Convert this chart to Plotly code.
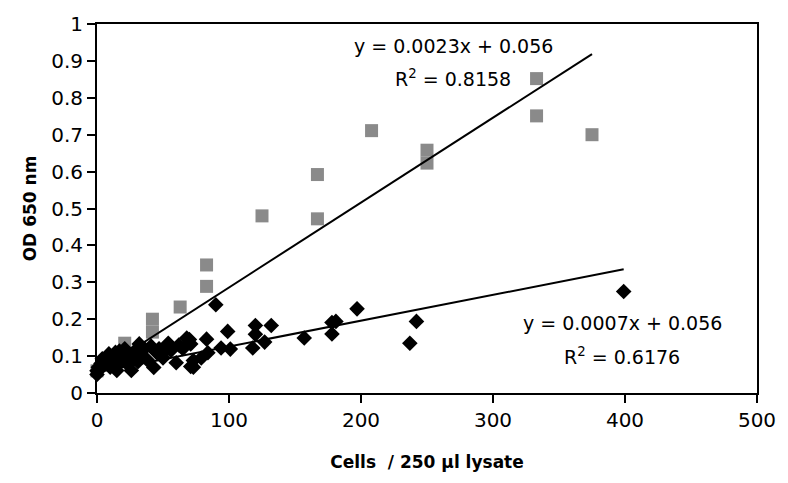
import plotly.graph_objects as go

# OD 650 nm readings against cell count, two assay series
cells_low = [0, 0, 1, 2, 3, 4, 5, 6, 8, 9, 10, 11, 12, 14, 15, 16, 17, 18, 20, 21,
             22, 24, 26, 27, 29, 31, 32, 34, 36, 38, 41, 43, 45, 47, 49, 50, 52, 54,
             56, 60, 62, 65, 68, 70, 71, 71, 73, 73, 79, 83, 84, 90, 94, 99, 101,
             118, 120, 120, 127, 132, 157, 178, 181, 178, 197, 237, 242, 399]
od_low = [0.05, 0.06, 0.07, 0.065, 0.08, 0.093, 0.075, 0.085, 0.10, 0.106, 0.07,
          0.09, 0.095, 0.11, 0.061, 0.08, 0.114, 0.10, 0.09, 0.12, 0.082, 0.105,
          0.061, 0.095, 0.115, 0.085, 0.133, 0.10, 0.12, 0.09, 0.127, 0.069, 0.11,
          0.12, 0.106, 0.095, 0.125, 0.135, 0.115, 0.082, 0.13, 0.12, 0.149, 0.145,
          0.133, 0.072, 0.088, 0.07, 0.095, 0.146, 0.109, 0.239, 0.122, 0.167,
          0.119, 0.122, 0.183, 0.159, 0.138, 0.183, 0.149, 0.191, 0.194, 0.16,
          0.228, 0.135, 0.194, 0.275]

cells_high = [0, 10, 21, 21, 42, 42, 63, 83, 83, 125, 167, 167, 208, 250, 250, 333, 333, 375]
od_high = [0.06, 0.085, 0.10, 0.135, 0.20, 0.165, 0.233, 0.347, 0.289, 0.48, 0.592,
           0.472, 0.711, 0.658, 0.623, 0.852, 0.751, 0.70]

# Linear fits (slope, intercept, R^2)
fit_high = (0.0023, 0.056, 0.8158)
fit_low = (0.0007, 0.056, 0.6176)

x_ticks = [0, 100, 200, 300, 400, 500]
y_ticks = [0, 0.1, 0.2, 0.3, 0.4, 0.5, 0.6, 0.7, 0.8, 0.9, 1]

FONT = "DejaVu Sans, Arial, sans-serif"

fig = go.Figure()

fig.add_trace(go.Scatter(
    x=cells_high, y=od_high, mode="markers",
    marker=dict(symbol="square", size=13, color="#8a8a8a"),
    showlegend=False, cliponaxis=False))

fig.add_trace(go.Scatter(
    x=cells_low, y=od_low, mode="markers",
    marker=dict(symbol="diamond", size=12, color="#000000"),
    showlegend=False, cliponaxis=False))

for xs, (m, b, _) in ((cells_high, fit_high), (cells_low, fit_low)):
    lx = [0, max(xs)]
    ly = [m * v + b for v in lx]
    fig.add_trace(go.Scatter(x=lx, y=ly, mode="lines",
                             line=dict(color="#000000", width=2),
                             showlegend=False))


def add_fit_labels(fit, x, y_eq, y_r2):
    m, b, r2 = fit
    style = dict(xref="x", yref="y", showarrow=False, xanchor="center",
                 yanchor="middle", font=dict(family=FONT, size=19, color="#000"))
    fig.add_annotation(x=x, y=y_eq, text=f"y = {m:.4f}x + {b:.3f}", **style)
    fig.add_annotation(x=x, y=y_r2, text=f"R<sup>2</sup> = {r2:.4f}", **style)


add_fit_labels(fit_high, 270, 0.941, 0.853)
add_fit_labels(fit_low, 398, 0.189, 0.101)

fig.update_layout(
    width=788, height=483,
    margin=dict(l=97, r=25, t=18, b=90),
    paper_bgcolor="white", plot_bgcolor="white",
    font=dict(family=FONT, color="#000"),
)

fig.update_xaxes(
    range=[0, 500], tickvals=x_ticks, ticktext=[str(v) for v in x_ticks],
    showgrid=False, zeroline=False, showline=True, linecolor="#000", linewidth=2,
    mirror=True, ticks="outside", ticklen=8, tickwidth=2, tickcolor="#000",
    tickfont=dict(family=FONT, size=20),
    title=dict(text="<b>Cells  / 250 μl lysate</b>", font=dict(family=FONT, size=17),
               standoff=25),
)
fig.update_yaxes(
    range=[0, 1], tickvals=y_ticks, ticktext=[f"{v:g}" for v in y_ticks],
    showgrid=False, zeroline=False, showline=True, linecolor="#000", linewidth=2,
    mirror=True, ticks="outside", ticklen=8, tickwidth=2, tickcolor="#000",
    tickfont=dict(family=FONT, size=20),
    title=dict(text="<b>OD 650 nm</b>", font=dict(family=FONT, size=17), standoff=10),
)

fig.write_html("out.html")
